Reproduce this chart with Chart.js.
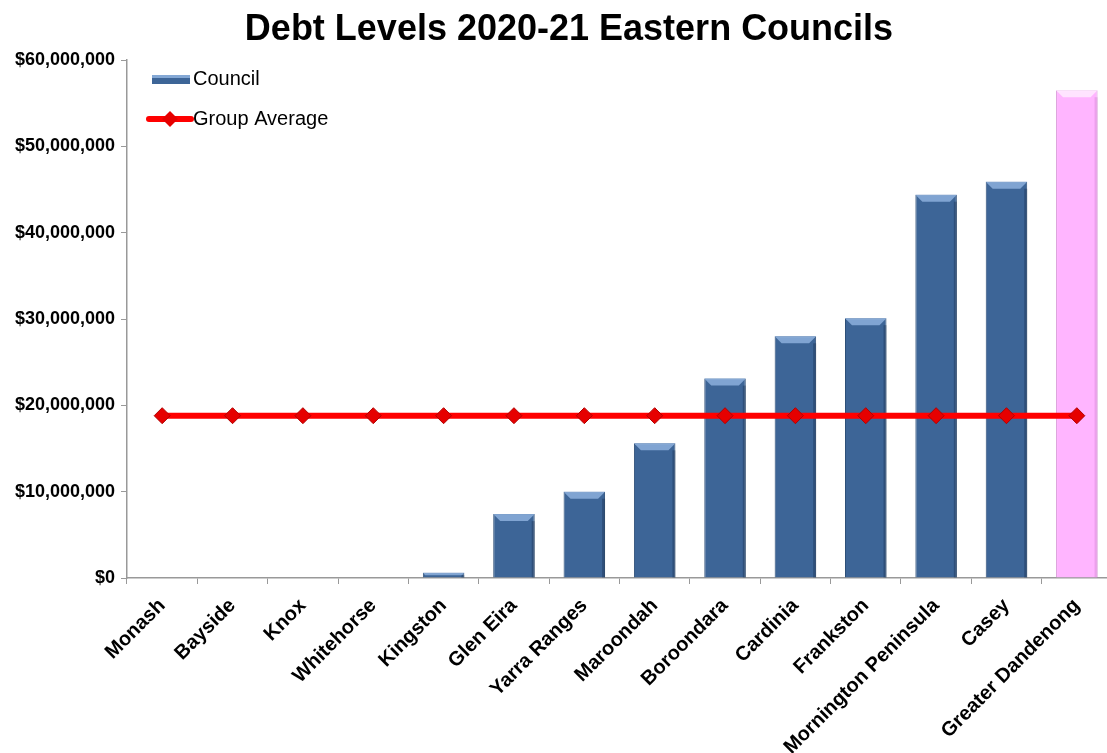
<!DOCTYPE html>
<html>
<head>
<meta charset="utf-8">
<title>Debt Levels 2020-21 Eastern Councils</title>
<script src="https://cdn.jsdelivr.net/npm/chart.js@4.4.1/dist/chart.umd.min.js"></script>
<style>
    body { margin: 0; background: #fff; overflow: hidden; }
    #debt-chart { display: block; }
</style>
</head>
<body>
<!-- canvas is a little wider than the window: the original is cropped on the right -->
<canvas id="debt-chart" width="1121" height="753"></canvas>
<script>
// Chart data
const councils = ['Monash', 'Bayside', 'Knox', 'Whitehorse', 'Kingston', 'Glen Eira', 'Yarra Ranges',
    'Maroondah', 'Boroondara', 'Cardinia', 'Frankston', 'Mornington Peninsula', 'Casey', 'Greater Dandenong'];
const debtLevels = [0, 0, 0, 0, 600000, 7400000, 10000000, 15600000, 23100000, 28000000,
    30100000, 44400000, 45900000, 56500000];
const groupAverage = [18800000, 18800000, 18800000, 18800000, 18800000, 18800000, 18800000,
    18800000, 18800000, 18800000, 18800000, 18800000, 18800000, 18800000];
const highlightCouncil = 'Greater Dandenong';
const chartTitle = 'Debt Levels 2020-21 Eastern Councils';

const barBlue = '#3D6597';
const barPink = '#FFB5FF';
const fontFamily = '"Liberation Sans", Arial, sans-serif';

const barColors = councils.map(c => c === highlightCouncil ? barPink : barBlue);
const barBorders = councils.map(c => c === highlightCouncil ? '#D99AD9' : '#2E4F78');

// Formats 60000000 as $60,000,000
function money(v) {
    return '$' + Number(v).toLocaleString('en-US');
}

// Title drawn by hand so it can sit slightly right of the window centre
const titlePlugin = {
    id: 'pageTitle',
    afterDraw(chart) {
        const ctx = chart.ctx;
        ctx.save();
        ctx.font = 'bold 36px ' + fontFamily;
        ctx.fillStyle = '#000';
        ctx.textAlign = 'center';
        ctx.textBaseline = 'alphabetic';
        ctx.fillText(chartTitle, 569, 40);
        ctx.restore();
    }
};

// Light bevel on top of each bar (Excel style)
const bevelPlugin = {
    id: 'bevel',
    afterDatasetDraw(chart, args) {
        if (args.index !== 1) return;
        const ctx = chart.ctx;
        args.meta.data.forEach((bar, i) => {
            const h = bar.base - bar.y;
            if (h < 1) return;
            const left = bar.x - bar.width / 2;
            const right = bar.x + bar.width / 2;
            const b = Math.min(7, h / 2);
            const pink = councils[i] === highlightCouncil;
            ctx.save();
            ctx.fillStyle = pink ? 'rgba(255,235,255,0.85)' : 'rgba(140,175,220,0.85)';
            ctx.beginPath();
            ctx.moveTo(left, bar.y);
            ctx.lineTo(right, bar.y);
            ctx.lineTo(right - b, bar.y + b);
            ctx.lineTo(left + b, bar.y + b);
            ctx.closePath();
            ctx.fill();
            ctx.fillStyle = pink ? 'rgba(200,120,200,0.35)' : 'rgba(20,40,70,0.35)';
            ctx.fillRect(right - 3, bar.y + b, 3, h - b);
            ctx.restore();
        });
    }
};

// Legend drawn inside the plot area, top-left
const innerLegend = {
    id: 'innerLegend',
    afterDraw(chart) {
        const ctx = chart.ctx;
        const x = chart.chartArea.left + 21;
        const y = chart.chartArea.top + 19;
        const sets = chart.data.datasets;
        ctx.save();
        ctx.font = '20px ' + fontFamily;
        ctx.textBaseline = 'middle';

        // Council swatch
        ctx.fillStyle = sets[1].backgroundColor[0];
        ctx.fillRect(x + 4, y - 4, 38, 9);
        ctx.fillStyle = 'rgba(140,175,220,0.9)';
        ctx.fillRect(x + 4, y - 4, 38, 3);
        ctx.fillStyle = '#000';
        ctx.fillText(sets[1].label, x + 45, y);

        // Group Average line + diamond
        const y2 = y + 40;
        ctx.strokeStyle = sets[0].borderColor;
        ctx.lineWidth = 6;
        ctx.lineCap = 'round';
        ctx.beginPath();
        ctx.moveTo(x + 1, y2);
        ctx.lineTo(x + 43, y2);
        ctx.stroke();
        ctx.fillStyle = sets[0].pointBackgroundColor;
        ctx.beginPath();
        ctx.moveTo(x + 22, y2 - 8);
        ctx.lineTo(x + 30, y2);
        ctx.lineTo(x + 22, y2 + 8);
        ctx.lineTo(x + 14, y2);
        ctx.closePath();
        ctx.fill();
        ctx.fillStyle = '#000';
        ctx.fillText(sets[0].label, x + 45, y2);
        ctx.restore();
    }
};

const ctx = document.getElementById('debt-chart').getContext('2d');

new Chart(ctx, {
    type: 'bar',
    data: {
        labels: councils,
        datasets: [
            {
                type: 'line',
                label: 'Group Average',
                data: groupAverage,
                borderColor: '#FF0000',
                borderWidth: 6,
                pointStyle: 'rectRot',
                pointRadius: 8,
                pointBackgroundColor: '#E60000',
                pointBorderColor: '#B00000',
                pointBorderWidth: 1,
                order: 0
            },
            {
                label: 'Council',
                data: debtLevels,
                backgroundColor: barColors,
                borderColor: barBorders,
                borderWidth: 1,
                barPercentage: 0.59,
                categoryPercentage: 1,
                order: 1
            }
        ]
    },
    options: {
        responsive: false,
        animation: false,
        layout: {
            padding: { top: 60, right: 7, left: 0, bottom: 0 }
        },
        plugins: {
            legend: { display: false },
            tooltip: { enabled: false },
            title: { display: false }
        },
        scales: {
            x: {
                grid: {
                    drawOnChartArea: false,
                    drawTicks: true,
                    tickLength: 6,
                    color: '#999'
                },
                border: { color: '#999', width: 1.5 },
                ticks: {
                    autoSkip: false,
                    minRotation: 45,
                    maxRotation: 45,
                    color: '#000',
                    padding: 10,
                    font: { family: fontFamily, size: 20, weight: 'bold' }
                },
                afterFit(scale) { scale.height = 175; }
            },
            y: {
                min: 0,
                max: 60000000,
                grid: {
                    drawOnChartArea: false,
                    drawTicks: true,
                    tickLength: 6,
                    color: '#999'
                },
                border: { color: '#999', width: 1.5 },
                ticks: {
                    stepSize: 10000000,
                    color: '#000',
                    padding: 6,
                    font: { family: fontFamily, size: 18, weight: 'bold' },
                    callback: v => money(v)
                },
                afterFit(scale) { scale.width = 127; }
            }
        }
    },
    plugins: [bevelPlugin, innerLegend, titlePlugin]
});
</script>
</body>
</html>
